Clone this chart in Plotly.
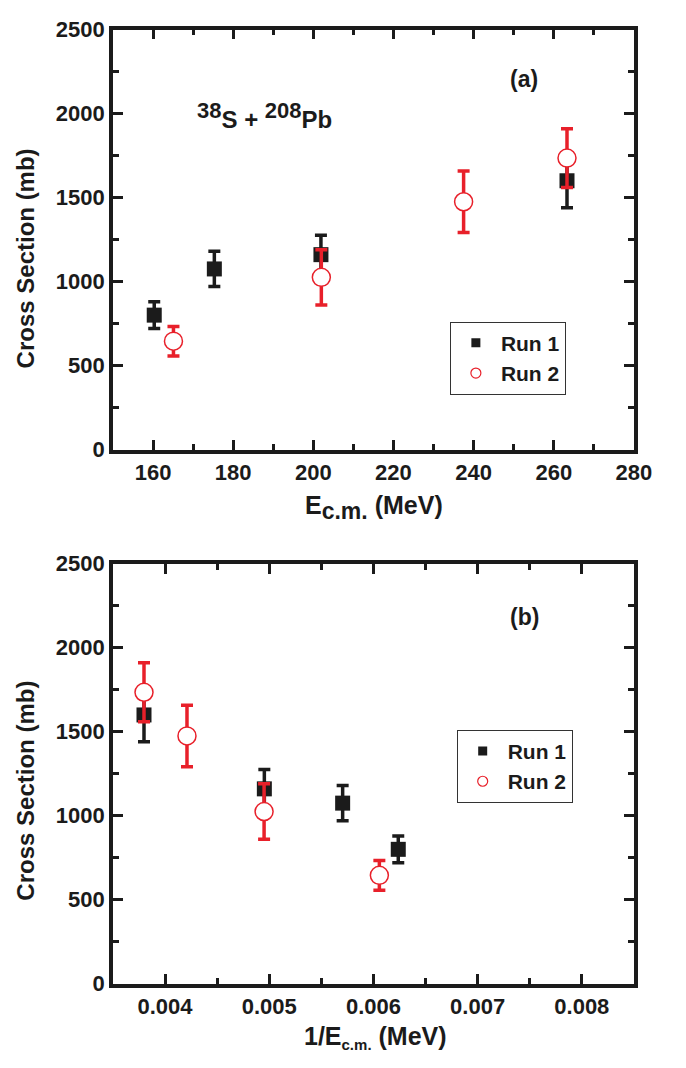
import plotly.graph_objects as go

# Run 1: centre-of-mass energy (MeV), cross section (mb), error (mb)
run1_ecm = [160.3, 175.3, 201.9, 263.3]
run1_sigma = [800, 1075, 1160, 1600]
run1_err = [80, 105, 115, 160]

# Run 2
run2_ecm = [165.1, 202.0, 237.5, 263.3]
run2_sigma = [645, 1025, 1475, 1735]
run2_err = [88, 165, 183, 175]

y_ticks = [0, 500, 1000, 1500, 2000, 2500]

# inverse energy for the lower panel
run1_inv = [1.0 / e for e in run1_ecm]
run2_inv = [1.0 / e for e in run2_ecm]

BLACK = "#1b1b1b"
RED = "#e8202a"
FONT = "Liberation Sans"

fig = go.Figure()


def add_runs(xs1, xs2, xaxis, yaxis, legend):
    fig.add_trace(go.Scatter(
        x=xs1, y=run1_sigma, mode="markers", xaxis=xaxis, yaxis=yaxis,
        marker=dict(symbol="square", size=15, color=BLACK),
        error_y=dict(type="data", array=run1_err, color=BLACK, thickness=3.5, width=6),
        showlegend=False, cliponaxis=False))
    fig.add_trace(go.Scatter(
        x=xs2, y=run2_sigma, mode="markers", xaxis=xaxis, yaxis=yaxis,
        marker=dict(symbol="circle", size=18, color="white", line=dict(color=RED, width=1.5)),
        error_y=dict(type="data", array=run2_err, color=RED, thickness=3.5, width=6),
        showlegend=False, cliponaxis=False))
    # legend entries
    fig.add_trace(go.Scatter(
        x=[None], y=[None], mode="markers", xaxis=xaxis, yaxis=yaxis, name="Run 1",
        marker=dict(symbol="square", size=9, color=BLACK), legend=legend))
    fig.add_trace(go.Scatter(
        x=[None], y=[None], mode="markers", xaxis=xaxis, yaxis=yaxis, name="Run 2",
        marker=dict(symbol="circle-open", size=10, color=RED, line=dict(width=1.2)),
        legend=legend))


add_runs(run1_ecm, run2_ecm, "x", "y", "legend")
add_runs(run1_inv, run2_inv, "x2", "y2", "legend2")

W, H = 686, 1068
x_dom = [116 / W, 651 / W]
top_dom = [1 - 448 / H, 1 - 18 / H]
bot_dom = [1 - 995 / H, 1 - 565 / H]

axis_common = dict(
    showline=True, linewidth=3.5, linecolor=BLACK, mirror="allticks",
    ticks="inside", ticklen=10, tickwidth=3, tickcolor=BLACK,
    showgrid=False, zeroline=False,
    tickfont=dict(family=FONT, size=22, color=BLACK, weight="bold"),
)
minor_common = dict(ticks="inside", ticklen=6, tickwidth=3, tickcolor=BLACK, showgrid=False)
legend_font = dict(family=FONT, size=21, color=BLACK, weight="bold")


def paper_text(text, px, py, size=24, angle=0):
    return dict(text=text, x=px / W, y=1 - py / H, xref="paper", yref="paper",
                showarrow=False, textangle=angle, xanchor="center", yanchor="middle",
                font=dict(family=FONT, size=size, color=BLACK, weight="bold"))


fig.update_layout(
    width=W, height=H,
    margin=dict(l=0, r=0, t=0, b=0),
    paper_bgcolor="white", plot_bgcolor="white",
    font=dict(family=FONT, color=BLACK),
    xaxis=dict(domain=x_dom, range=[150, 280], tickmode="linear", tick0=160, dtick=20,
               minor=dict(dtick=10, tick0=150, **minor_common),
               anchor="y", **axis_common),
    yaxis=dict(domain=top_dom, range=[0, 2500], tickvals=y_ticks,
               minor=dict(dtick=250, tick0=0, **minor_common),
               anchor="x", **axis_common),
    xaxis2=dict(domain=x_dom, range=[0.0035, 0.0085], tickmode="linear", tick0=0.004,
                dtick=0.001, tickformat=".3f",
                minor=dict(dtick=0.0005, tick0=0.0035, **minor_common),
                anchor="y2", **axis_common),
    yaxis2=dict(domain=bot_dom, range=[0, 2500], tickvals=y_ticks,
                minor=dict(dtick=250, tick0=0, **minor_common),
                anchor="x2", **axis_common),
    legend=dict(x=462 / W, y=1 - 317 / H, xanchor="left", yanchor="top",
                bordercolor="#333333", borderwidth=1, bgcolor="white",
                font=legend_font, itemwidth=40),
    legend2=dict(x=469 / W, y=1 - 735 / H, xanchor="left", yanchor="top",
                 bordercolor="#333333", borderwidth=1, bgcolor="white",
                 font=legend_font, itemwidth=40),
    annotations=[
        paper_text("(a)", 538, 69, size=23),
        paper_text('<sup><span style="font-size:22px">38</span></sup>S + '
                   '<sup><span style="font-size:22px">208</span></sup>Pb', 272, 106, size=24),
        paper_text("(b)", 539, 620, size=23),
        paper_text('E<sub><span style="font-size:23px">c.m.</span></sub> (MeV)', 384, 507, size=25),
        paper_text('1/E<sub><span style="font-size:15px">c.m.</span></sub> (MeV)', 386, 1050, size=25),
        paper_text("Cross Section (mb)", 26, 252, angle=-90),
        paper_text("Cross Section (mb)", 26, 797, angle=-90),
    ],
)

fig.write_html("out.html")
